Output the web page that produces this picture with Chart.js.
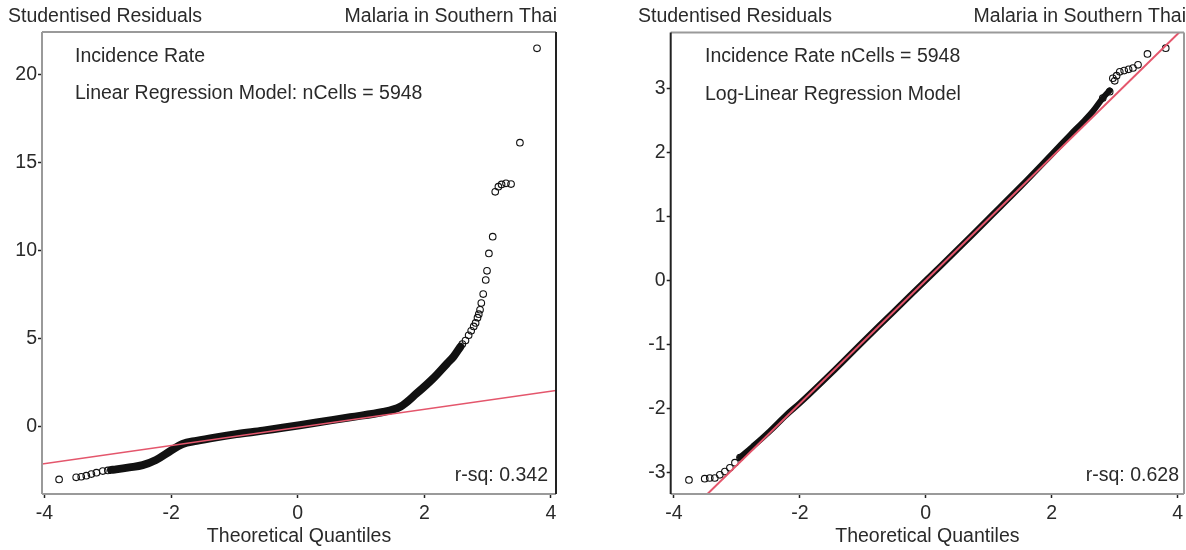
<!DOCTYPE html>
<html>
<head>
<meta charset="utf-8">
<script src="https://cdn.jsdelivr.net/npm/chart.js@4.4.0/dist/chart.umd.min.js"></script>
<style>
  html, body { margin: 0; padding: 0; background: #fff; overflow: hidden; }
  #wrap { position: relative; width: 1186px; height: 550px; }
  .panel { position: absolute; top: 0; height: 550px; }
</style>
</head>
<body>
<div id="wrap">
  <div class="panel" style="left:0;width:593px"><canvas id="linChart" width="593" height="550"></canvas></div>
  <div class="panel" style="left:593px;width:600px"><canvas id="logChart" width="600" height="550"></canvas></div>
</div>
<script>
// ---- data (x = theoretical quantile, y = studentised residual) ----
const xTicks = [-4, -2, 0, 2, 4];
const linYTicks = [0, 5, 10, 15, 20];
const logYTicks = [-3, -2, -1, 0, 1, 2, 3];

// linear model
const linLowTail = [[-3.77, -2.99], [-3.5, -2.87], [-3.42, -2.84], [-3.34, -2.78], [-3.26, -2.69], [-3.18, -2.61], [-3.08, -2.52], [-3.0, -2.48]];
const linBand = [[-2.95, -2.45], [-2.87, -2.42], [-2.66, -2.31], [-2.45, -2.18], [-2.24, -1.89], [-2.03, -1.42], [-1.82, -0.98],
  [-1.6, -0.8], [-1.29, -0.6], [-0.97, -0.42], [-0.55, -0.22], [-0.24, -0.06], [0.3, 0.24], [0.83, 0.54], [1.35, 0.84],
  [1.62, 1.14], [1.88, 1.9], [2.14, 2.75], [2.36, 3.6], [2.46, 3.98], [2.57, 4.55]];
const linHighTail = [[2.6, 4.7], [2.65, 4.9], [2.7, 5.2], [2.74, 5.45], [2.78, 5.7], [2.81, 5.9], [2.84, 6.2], [2.86, 6.4],
  [2.88, 6.65], [2.9, 7.03], [2.93, 7.54], [2.97, 8.34], [2.99, 8.86], [3.02, 9.85], [3.08, 10.8], [3.12, 13.35],
  [3.17, 13.64], [3.22, 13.77], [3.29, 13.83], [3.37, 13.79], [3.51, 16.14], [3.78, 21.5]];
const linFit = [[-4.04, -2.12], [4.08, 2.06]];

// log-linear model
const logLowTail = [[-3.76, -3.12], [-3.51, -3.1], [-3.43, -3.09], [-3.35, -3.09], [-3.27, -3.04], [-3.19, -2.99], [-3.11, -2.93], [-3.03, -2.85], [-2.95, -2.77]];
const logBand = [[-2.95, -2.77], [-2.75, -2.6], [-2.48, -2.36], [-2.21, -2.1], [-2.0, -1.92], [-1.5, -1.45], [-1.0, -0.96],
  [-0.5, -0.48], [0, 0], [0.5, 0.48], [1.0, 0.97], [1.5, 1.46], [2.0, 1.97], [2.3, 2.28], [2.5, 2.48], [2.65, 2.64], [2.81, 2.85], [2.92, 2.97]];
const logHighTail = [[2.81, 2.85], [2.92, 2.95], [2.97, 3.16], [3.0, 3.12], [3.03, 3.2], [3.08, 3.26], [3.15, 3.28], [3.22, 3.3],
  [3.29, 3.32], [3.37, 3.37], [3.52, 3.54], [3.81, 3.63]];
const logFit = [[-3.55, -3.42], [4.1, 3.95]];

const FONT = '"Liberation Sans", Arial, sans-serif';
const TXT = '#2a2a2a';
const FIT_RED = '#e4566c';

const pts = arr => arr.map(([x, y]) => ({ x, y }));

// draws the box round the plot plus the header / note texts
const framePlugin = {
  id: 'frame',
  afterDatasetsDraw(chart, args, opts) {
    const { ctx, chartArea: a } = chart;
    ctx.save();
    ctx.lineWidth = 2;
    const edge = (c, x1, y1, x2, y2) => {
      ctx.strokeStyle = c;
      ctx.beginPath(); ctx.moveTo(x1, y1); ctx.lineTo(x2, y2); ctx.stroke();
    };
    edge(opts.edges.top, a.left, a.top, a.right, a.top);
    edge(opts.edges.bottom, a.left, a.bottom, a.right, a.bottom);
    edge(opts.edges.left, a.left, a.top, a.left, a.bottom);
    edge(opts.edges.right, a.right, a.top, a.right, a.bottom);

    ctx.font = '19.5px ' + FONT;
    ctx.fillStyle = TXT;
    ctx.textBaseline = 'middle';
    opts.notes.forEach(n => {
      ctx.textAlign = n.align || 'left';
      ctx.fillText(n.text, n.x, n.y);
    });
    ctx.restore();
  }
};

function xScale(min, max) {
  return {
    type: 'linear', min, max,
    afterBuildTicks: s => { s.ticks = xTicks.map(v => ({ value: v })); },
    afterFit: s => { s.height = 56; },
    grid: { drawOnChartArea: false, drawTicks: true, tickLength: 4, tickColor: '#222', tickWidth: 1.5 },
    border: { display: false },
    ticks: { color: TXT, font: { family: FONT, size: 19.5 }, padding: 4, maxRotation: 0, autoSkip: false },
    title: { display: true, text: 'Theoretical Quantiles', color: TXT, font: { family: FONT, size: 19.5 }, padding: { top: 0, bottom: 2 } }
  };
}

function yScale(min, max, tickVals, width) {
  return {
    type: 'linear', min, max,
    afterBuildTicks: s => { s.ticks = tickVals.map(v => ({ value: v })); },
    afterFit: s => { s.width = width; },
    grid: { drawOnChartArea: false, drawTicks: true, tickLength: 4, tickColor: '#222', tickWidth: 1.5 },
    border: { display: false },
    ticks: { color: TXT, font: { family: FONT, size: 19.5 }, padding: 1, autoSkip: false }
  };
}

function datasets(low, band, high, fit, bandWidth, fitWidth) {
  const circle = {
    showLine: false, pointRadius: 3.3, pointBorderWidth: 1.1,
    borderColor: '#111', backgroundColor: 'rgba(0,0,0,0)', pointBackgroundColor: 'rgba(0,0,0,0)', order: 2
  };
  return [
    { ...circle, data: pts(low) },
    { ...circle, data: pts(high) },
    { data: pts(band), showLine: true, pointRadius: 0, borderColor: '#111', borderWidth: bandWidth,
      tension: 0.35, borderCapStyle: 'round', borderJoinStyle: 'round', order: 3 },
    { data: pts(fit), showLine: true, pointRadius: 0, borderColor: FIT_RED, borderWidth: fitWidth, order: 1 }
  ];
}

function baseOptions(padding, scales, frame) {
  return {
    responsive: false,
    animation: false,
    layout: { padding },
    scales,
    plugins: { legend: { display: false }, tooltip: { enabled: false }, frame }
  };
}

new Chart(document.getElementById('linChart'), {
  type: 'scatter',
  data: { datasets: datasets(linLowTail, linBand, linHighTail, linFit, 8, 1.6) },
  options: baseOptions(
    { top: 32, right: 37, left: 0, bottom: 0 },
    { x: xScale(-4.04, 4.08), y: yScale(-3.82, 22.43, linYTicks, 42) },
    {
      edges: { top: '#9a9a9a', bottom: '#9a9a9a', left: '#9a9a9a', right: '#222' },
      notes: [
        { text: 'Studentised Residuals', x: 8, y: 17 },
        { text: 'Malaria in Southern Thai', x: 557, y: 17, align: 'right' },
        { text: 'Incidence Rate', x: 75, y: 57 },
        { text: 'Linear Regression Model: nCells = 5948', x: 75, y: 94 },
        { text: 'r-sq: 0.342', x: 548, y: 476, align: 'right' }
      ]
    }
  ),
  plugins: [framePlugin]
});

new Chart(document.getElementById('logChart'), {
  type: 'scatter',
  data: { datasets: datasets(logLowTail, logBand, logHighTail, logFit, 6, 2) },
  options: baseOptions(
    { top: 32.5, right: 9, left: 0, bottom: 0 },
    { x: xScale(-4.05, 4.1), y: yScale(-3.34, 3.875, logYTicks, 77.7) },
    {
      edges: { top: '#9a9a9a', bottom: '#9a9a9a', left: '#222', right: '#9a9a9a' },
      notes: [
        { text: 'Studentised Residuals', x: 45, y: 17 },
        { text: 'Malaria in Southern Thai', x: 593, y: 17, align: 'right' },
        { text: 'Incidence Rate nCells = 5948', x: 112, y: 57 },
        { text: 'Log-Linear Regression Model', x: 112, y: 95 },
        { text: 'r-sq: 0.628', x: 586, y: 476, align: 'right' }
      ]
    }
  ),
  plugins: [framePlugin]
});
</script>
</body>
</html>
